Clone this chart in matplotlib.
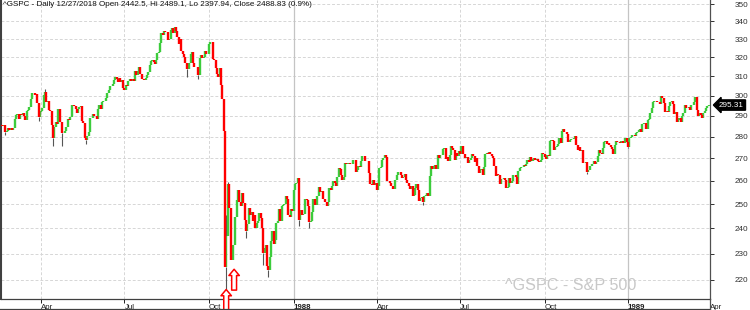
import numpy as np
import pandas as pd
import matplotlib
matplotlib.use("Agg")
import matplotlib.pyplot as plt
import matplotlib.transforms as mtrans
from matplotlib.lines import Line2D

plt.rcParams['font.family'] = ['Liberation Sans', 'DejaVu Sans']

title = "^GSPC - Daily 12/27/2018 Open 2442.5, Hi 2489.1, Lo 2397.94, Close 2488.83 (0.9%)"
watermark = "^GSPC - S&P 500"

# NYSE closed days inside the range
holidays = ["1987-04-17", "1987-05-25", "1987-07-03", "1987-09-07", "1987-11-26", "1987-12-25",
            "1988-01-01", "1988-02-15", "1988-04-01", "1988-05-30", "1988-07-04", "1988-09-05",
            "1988-11-24", "1988-12-26", "1989-01-02", "1989-02-20", "1989-03-24"]

first_open = 285.4
closes = (
    # 1987
    [284.9, 285.6, 285.5, 282.4, 282.9, 284.0, 283.0, 284.2]
    + [283.0, 284.1, 288.6, 290.5, 290.7, 288.3, 290.9, 290.3, 291.2, 289.9, 288.2, 292.5,
       292.8, 294.1, 298.2, 301.6, 301.6, 300.4, 300.9, 296.1, 289.2, 291.7]
    + [292.4, 293.6, 300.5, 301.9, 296.7, 297.3, 292.9, 292.5, 285.6, 279.2, 284.4, 286.9,
       286.1, 293.1, 287.2, 286.8, 281.5, 281.8, 282.5, 284.6, 288.4]
    + [288.0, 289.4, 295.3, 295.1, 294.7, 293.4, 291.6, 293.4, 294.2, 294.6, 287.4, 286.7,
       279.6, 278.2, 280.2, 282.2, 289.1, 288.7, 290.8, 290.1]
    + [289.8, 288.6, 293.5, 295.1, 293.5, 296.7, 297.3, 297.5, 298.8, 301.2, 303.1, 304.8,
       304.8, 306.1, 307.9, 309.6, 308.4, 306.9, 308.9, 307.2, 307.9, 304.0]
    + [302.9, 305.6, 304.9, 307.4, 308.3, 307.4, 308.4, 307.6, 312.7, 310.7, 312.7, 314.6,
       311.4, 308.6, 308.5, 307.8, 309.3, 310.7, 312.3, 315.7, 318.0, 318.7]
    + [317.6, 316.2, 318.5, 322.1, 323.0, 328.0, 333.3, 332.4, 334.6, 334.0, 334.1, 329.3,
       329.8, 334.8, 335.9, 333.3, 336.8, 334.6, 331.4, 327.0, 329.8]
    + [323.4, 321.7, 320.2, 316.7, 313.6, 313.9, 317.1, 322.0, 323.1, 317.1, 314.9, 314.9,
       314.9, 310.5, 319.5, 321.2, 319.7, 320.2, 323.2, 321.7, 321.8]
    + [327.3, 328.1, 328.1, 319.2, 318.5, 314.2, 311.1, 309.4, 314.5, 305.2, 298.1, 282.7,
       224.8, 236.8, 258.4, 248.3, 248.2, 227.7, 233.2, 233.3, 244.8, 251.8]
    + [255.8, 250.8, 249.0, 254.5, 250.4, 243.2, 239.0, 241.9, 248.5, 245.6, 246.8, 243.0,
       245.6, 240.1, 242.0, 243.0, 246.4, 244.1, 240.3, 230.3]
    + [232.0, 233.5, 225.2, 223.9, 228.8, 234.9, 238.9, 233.6, 235.3, 242.2, 242.8, 248.1,
       243.0, 249.2, 249.5, 250.0, 253.2, 252.0, 245.6, 244.6, 247.9, 247.1]
    # 1988
    + [255.9, 258.6, 258.9, 261.1, 243.4, 247.5, 245.4, 245.8, 245.9, 252.1, 251.9, 249.3,
       242.6, 243.1, 246.5, 252.2, 249.6, 249.4, 253.3, 257.1]
    + [255.0, 255.6, 252.2, 252.2, 251.0, 249.1, 251.0, 256.7, 256.0, 257.6, 259.8, 259.2,
       257.9, 261.6, 265.6, 265.0, 262.5, 260.3, 261.6, 267.8]
    + [267.2, 268.0, 267.9, 267.3, 267.4, 269.4, 269.1, 263.8, 264.9, 266.4, 266.1, 268.7,
       271.2, 271.1, 268.7, 268.8, 268.9, 263.4, 258.5, 258.1, 260.1, 258.1, 258.9]
    + [256.1, 257.9, 265.5, 266.2, 269.4, 270.2, 271.4, 270.7, 259.8, 259.8, 259.2, 257.9,
       256.4, 256.5, 260.1, 262.5, 263.9, 263.8, 262.6, 261.3]
    + [261.6, 263.0, 260.3, 258.8, 257.5, 256.5, 257.6, 253.3, 253.9, 256.8, 258.7, 256.1,
       251.4, 252.6, 253.0, 250.8, 253.5, 253.8, 254.6, 253.4, 262.2]
    + [266.7, 265.3, 266.5, 267.1, 265.2, 271.5, 270.2, 271.3, 271.4, 274.3, 274.5, 269.8,
       270.7, 268.9, 271.7, 275.7, 274.8, 273.8, 269.1, 272.3, 271.0, 273.5]
    + [271.8, 275.8, 272.0, 271.8, 270.0, 270.6, 267.9, 269.3, 270.3, 272.1, 271.0, 268.5,
       270.0, 266.7, 263.5, 264.7, 265.2, 262.5, 266.0, 272.0]
    + [272.2, 272.1, 273.0, 271.9, 271.2, 270.0, 266.5, 261.9, 262.8, 262.6, 258.7, 260.6,
       260.8, 261.0, 260.2, 257.0, 257.1, 261.1, 259.2, 259.7, 262.3, 262.5, 261.5]
    + [258.4, 264.5, 265.6, 265.9, 265.9, 266.8, 266.5, 267.4, 269.3, 268.1, 270.7, 268.8,
       269.7, 270.2, 269.2, 269.8, 268.9, 268.3, 269.1, 272.6, 271.9]
    + [270.6, 269.7, 271.4, 271.1, 278.1, 278.2, 277.9, 274.0, 275.2, 275.5, 276.4, 279.4,
       277.0, 282.9, 283.7, 282.3, 282.4, 281.4, 277.3, 278.5, 279.0]
    + [279.1, 279.2, 280.3, 276.3, 273.9, 275.2, 273.3, 273.7, 267.9, 267.7, 268.3, 263.8,
       264.6, 266.5, 266.4, 267.2, 268.6, 267.2, 268.1, 270.9, 273.7]
    + [272.5, 271.8, 274.9, 277.6, 278.1, 276.6, 277.0, 275.9, 275.4, 274.3, 271.8, 276.3,
       277.9, 277.5, 277.4, 276.9, 277.9, 276.8, 277.1, 279.4, 277.7]
    # 1989
    + [275.3, 279.4, 280.0, 280.7, 281.0, 280.4, 281.6, 282.0, 283.2, 283.6, 282.4, 286.1,
       286.6, 286.6, 283.6, 287.9, 288.5, 291.2, 293.8, 297.0, 297.5]
    + [297.1, 296.8, 297.0, 296.0, 299.6, 298.7, 296.1, 292.0, 292.5, 291.8, 294.8, 296.8,
       297.1, 296.0, 290.9, 292.1, 287.1, 287.8, 288.9]
    + [287.1, 290.0, 291.2, 295.2, 294.0, 293.9, 294.1, 292.9, 295.3, 295.1, 296.7, 299.4,
       292.7, 289.9, 291.3, 290.5, 289.1, 291.6, 292.5, 293.8, 294.8, 295.31]
)

# wicks that stick out of the bodies
wick_lows = {"1987-02-23": 281.0, "1987-03-30": 287.5, "1987-04-14": 275.6, "1987-04-24": 275.6,
             "1987-05-20": 276.5, "1987-09-08": 309.5, "1987-09-21": 308.6, "1987-10-20": 216.46,
             "1987-11-10": 236.0, "1987-11-30": 225.8, "1987-12-04": 221.2, "1988-01-08": 241.0,
             "1988-01-20": 240.2, "1988-05-23": 249.5, "1988-11-16": 262.9, "1989-01-03": 274.5}
wick_highs = {"1987-04-06": 303.5, "1987-10-20": 245.6, "1987-10-21": 259.5}

signal_dates = ["1987-10-20", "1987-10-28"]
signal_prices = [216.5, 224.0]

yticks = [220, 230, 240, 250, 260, 270, 280, 290, 300, 310, 320, 330, 340, 350]
month_names = {4: "Apr", 7: "Jul", 10: "Oct"}

dates_all = pd.bdate_range("1987-02-18", "1989-04-03", freq="C", holidays=holidays)
n = len(closes)
dates = dates_all[:n]
x = np.arange(n)
c = np.array(closes)
o = np.r_[first_open, c[:-1]]
up = c >= o
lo = np.minimum(o, c)
hi = np.maximum(o, c)

fig = plt.figure(figsize=(7.5, 3.1), dpi=100)
ax = fig.add_axes([1 / 750, 11 / 310, 709 / 750, 299 / 310])
ax.set_yscale("log")
ax.set_ylim(213.07, 352.4)
ax.set_xlim(-0.4, n + 0.1)

for v in yticks:
    ax.axhline(v, color="#d6d6d6", lw=0.7, ls=(0, (3, 2)), zorder=0)

tick_pos, tick_lab, tick_year = [], [], []
for i in range(1, len(dates_all)):
    d = dates_all[i]
    if d.month in (1, 4, 7, 10) and dates_all[i - 1].month != d.month:
        tick_pos.append(i)
        tick_year.append(d.month == 1)
        tick_lab.append(str(d.year) if d.month == 1 else month_names[d.month])
for p, yr in zip(tick_pos, tick_year):
    if yr:
        ax.axvline(p, color="#c4c4c4", lw=0.9, zorder=0)
    else:
        ax.axvline(p, color="#d6d6d6", lw=0.7, ls=(0, (3, 2)), zorder=0)

for d, v in wick_lows.items():
    i = dates.get_loc(pd.Timestamp(d))
    ax.vlines(i, v, lo[i], color="#555555", lw=0.8, zorder=2)
for d, v in wick_highs.items():
    i = dates.get_loc(pd.Timestamp(d))
    ax.vlines(i, hi[i], v, color="#555555", lw=0.8, zorder=2)

ax.vlines(x[up], lo[up], hi[up], color="#3ccc3c", lw=1.7, zorder=3)
ax.vlines(x[~up], lo[~up], hi[~up], color="#ff0000", lw=1.7, zorder=3)

for d, p in zip(signal_dates, signal_prices):
    i = dates.get_loc(pd.Timestamp(d))
    ax.annotate("", xy=(i, p), xytext=(0, -15), textcoords="offset points",
                arrowprops=dict(arrowstyle="simple,head_length=0.45,head_width=0.75,tail_width=0.35",
                                fc="white", ec="red", lw=1.1, shrinkA=0, shrinkB=0,
                                mutation_scale=10),
                annotation_clip=False, zorder=5)

ax.set_xticks(tick_pos)
ax.set_xticklabels(tick_lab)
for lbl, yr in zip(ax.get_xticklabels(), tick_year):
    lbl.set_ha("left")
    lbl.set_transform(lbl.get_transform() + mtrans.ScaledTranslation(2 / 100, 0, fig.dpi_scale_trans))
    if yr:
        lbl.set_fontweight("bold")
ax.tick_params(axis="x", direction="out", length=3, width=0.7, pad=0.5, labelsize=5.7,
               colors="#202020")

ax.yaxis.tick_right()
ax.set_yticks(yticks)
ax.set_yticklabels([str(v) for v in yticks])
ax.yaxis.set_minor_locator(matplotlib.ticker.NullLocator())
ax.tick_params(axis="y", direction="out", length=3, width=0.7, pad=15, labelsize=5.9,
               colors="#303030")

ax.spines["top"].set_visible(False)
ax.spines["left"].set_color("#404040")
ax.spines["left"].set_linewidth(1.5)
ax.spines["right"].set_color("#505050")
ax.spines["bottom"].set_color("#404040")
ax.spines["right"].set_linewidth(0.9)
ax.spines["bottom"].set_linewidth(0.9)

fig.add_artist(Line2D([0, 710 / 750], [1.5 / 310, 1.5 / 310], color="#404040", lw=0.9))
fig.add_artist(Line2D([710 / 750, 710 / 750], [1.5 / 310, 11 / 310], color="#505050", lw=0.9))

ax.annotate(f"{closes[-1]:.2f}", xy=(1, closes[-1]), xycoords=("axes fraction", "data"),
            xytext=(9, 0), textcoords="offset pixels", ha="left", va="center",
            fontsize=5.9, color="white",
            bbox=dict(boxstyle="larrow,pad=0.2", fc="black", ec="black"),
            annotation_clip=False)

fig.text(3 / 750, 1 - 1.5 / 310, title, ha="left", va="top", fontsize=5.8, color="#101010")
fig.text(505 / 750, 20 / 310, watermark, ha="left", va="baseline", fontsize=11.6,
         color="#c8c8c8", zorder=0)

fig.savefig("out.png", dpi=100)
